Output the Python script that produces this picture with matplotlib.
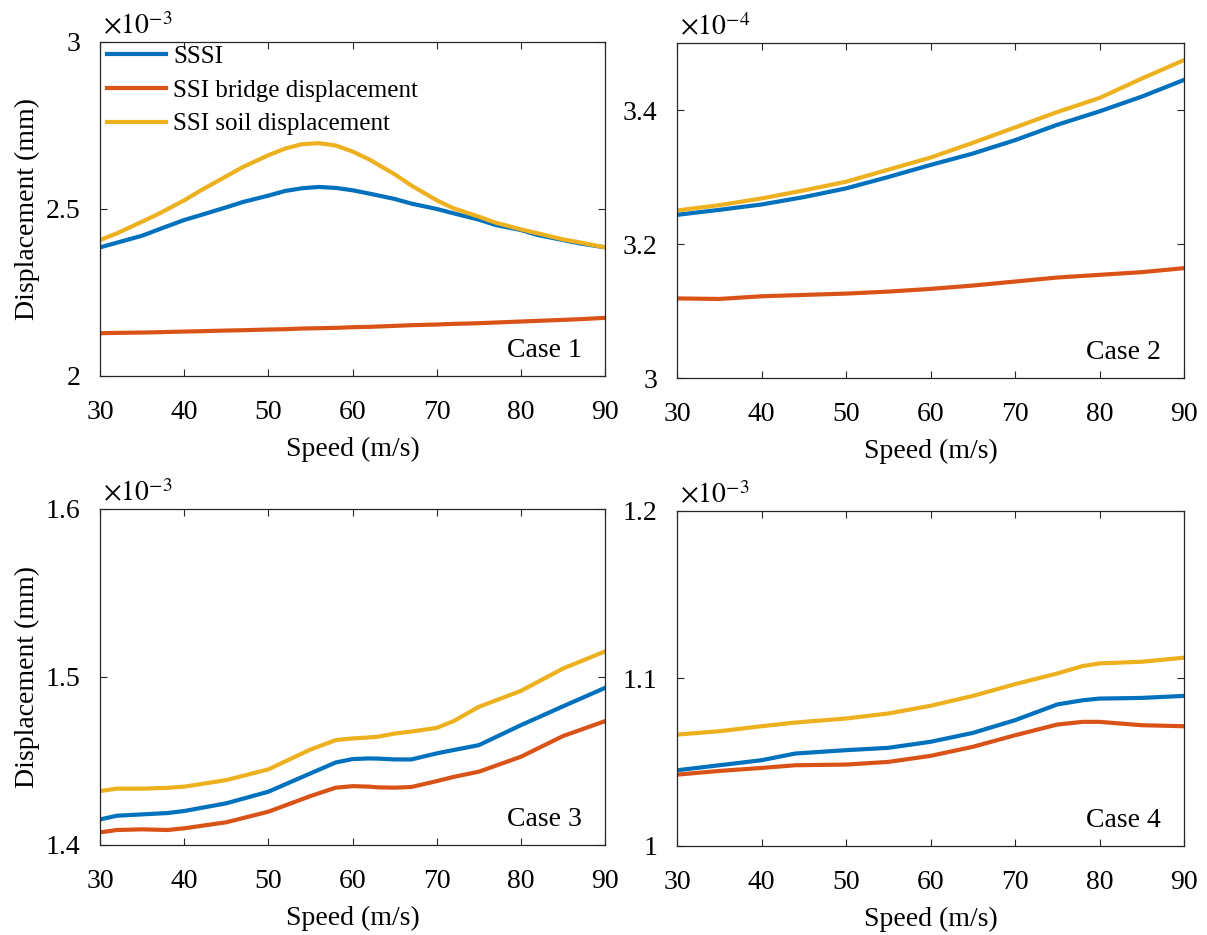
import matplotlib
matplotlib.use("Agg")
import matplotlib.pyplot as plt
from matplotlib.ticker import FuncFormatter

plt.rcParams['font.family'] = ['Liberation Serif', 'DejaVu Serif']
plt.rcParams['mathtext.fontset'] = 'stix'

# values shown in units of the axis multiplier (x10^-3 or x10^-4 mm)
speed_c1 = [30, 32, 35, 37, 40, 42, 45, 47, 50, 52, 54, 56, 58, 60, 62, 65, 67, 70, 72, 75, 77, 80, 82, 85, 87, 90]
sssi_c1 = [2.385, 2.399, 2.420, 2.439, 2.467, 2.482, 2.505, 2.521, 2.540, 2.554, 2.562, 2.566, 2.563, 2.556, 2.546,
           2.530, 2.516, 2.500, 2.487, 2.468, 2.452, 2.437, 2.422, 2.407, 2.397, 2.385]
bridge_c1 = [2.128, 2.129, 2.130, 2.131, 2.133, 2.134, 2.136, 2.137, 2.139, 2.140, 2.142, 2.143, 2.144, 2.146, 2.147,
             2.150, 2.152, 2.154, 2.156, 2.158, 2.160, 2.163, 2.165, 2.168, 2.170, 2.174]
soil_c1 = [2.407, 2.427, 2.462, 2.486, 2.526, 2.556, 2.598, 2.626, 2.661, 2.681, 2.694, 2.697, 2.690, 2.672, 2.648,
           2.604, 2.570, 2.526, 2.502, 2.477, 2.459, 2.439, 2.427, 2.409, 2.400, 2.385]

speed_c2 = [30, 35, 40, 45, 50, 55, 60, 65, 70, 75, 80, 85, 90]
sssi_c2 = [3.2435, 3.251, 3.259, 3.270, 3.283, 3.300, 3.318, 3.335, 3.355, 3.378, 3.398, 3.420, 3.445]
bridge_c2 = [3.1188, 3.118, 3.122, 3.124, 3.126, 3.129, 3.133, 3.138, 3.144, 3.150, 3.154, 3.158, 3.164]
soil_c2 = [3.250, 3.258, 3.268, 3.280, 3.293, 3.311, 3.329, 3.351, 3.374, 3.397, 3.418, 3.447, 3.4745]

speed_c3 = [30, 32, 35, 38, 40, 45, 50, 55, 58, 60, 62, 63, 65, 67, 70, 72, 75, 80, 85, 90]
sssi_c3 = [1.4152, 1.4174, 1.4182, 1.4190, 1.4202, 1.4248, 1.4317, 1.4426, 1.4491, 1.4511, 1.4515, 1.4514, 1.4509, 1.4509,
           1.4545, 1.4565, 1.4594, 1.4713, 1.4825, 1.4935]
bridge_c3 = [1.4075, 1.4089, 1.4093, 1.4089, 1.4099, 1.4135, 1.4198, 1.4291, 1.4341, 1.4350, 1.4347, 1.4343, 1.4341, 1.4345,
             1.4380, 1.4405, 1.4436, 1.4525, 1.4648, 1.4737]
soil_c3 = [1.4321, 1.4335, 1.4335, 1.4340, 1.4347, 1.4386, 1.4450, 1.4568, 1.4624, 1.4634, 1.4640, 1.4644, 1.4663, 1.4675,
           1.4697, 1.4737, 1.4822, 1.4917, 1.5050, 1.5152]

speed_c4 = [30, 35, 40, 44, 50, 55, 60, 65, 70, 75, 78, 80, 85, 90]
sssi_c4 = [1.0452, 1.0482, 1.0512, 1.0552, 1.0572, 1.0586, 1.0622, 1.0675, 1.0751, 1.0845, 1.0870, 1.0880, 1.0884, 1.0896]
bridge_c4 = [1.0426, 1.0448, 1.0466, 1.0482, 1.0486, 1.0502, 1.0538, 1.0592, 1.0661, 1.0725, 1.0741, 1.0741, 1.0721, 1.0715]
soil_c4 = [1.0665, 1.0685, 1.0715, 1.0737, 1.0761, 1.0791, 1.0837, 1.0896, 1.0966, 1.1030, 1.1074, 1.1090, 1.1100, 1.1124]

series_names = ['SSSI', 'SSI bridge displacement', 'SSI soil displacement']
colors = ['#0072BD', '#D95319', '#EDB120']
case_names = ['Case 1', 'Case 2', 'Case 3', 'Case 4']
multipliers = [r'$\times10^{-3}$', r'$\times10^{-4}$', r'$\times10^{-3}$', r'$\times10^{-3}$']
ylims = [(2, 3), (3, 3.5), (1.4, 1.6), (1, 1.2)]
yticks = [[2, 2.5, 3], [3, 3.2, 3.4], [1.4, 1.5, 1.6], [1, 1.1, 1.2]]

panels = [
    (speed_c1, sssi_c1, bridge_c1, soil_c1),
    (speed_c2, sssi_c2, bridge_c2, soil_c2),
    (speed_c3, sssi_c3, bridge_c3, soil_c3),
    (speed_c4, sssi_c4, bridge_c4, soil_c4),
]

positions = [
    [0.0829, 0.5979, 0.4184, 0.3572],
    [0.5609, 0.5957, 0.4201, 0.3583],
    [0.0829, 0.0963, 0.4184, 0.3594],
    [0.5609, 0.0952, 0.4201, 0.3583],
]

fig = plt.figure(figsize=(12.07, 9.35), dpi=100)
axc = '#262626'

for i, (spd, a, b, c) in enumerate(panels):
    ax = fig.add_axes(positions[i])
    for vals, col, name in zip((a, b, c), colors, series_names):
        ax.plot(spd, vals, color=col, lw=3.0, label=name, solid_joinstyle='round')
    ax.set_xlim(30, 90)
    ax.set_ylim(*ylims[i])
    ax.set_xticks(range(30, 91, 10))
    ax.set_yticks(yticks[i])
    ax.yaxis.set_major_formatter(FuncFormatter(lambda v, p: '%g' % v))
    ax.tick_params(direction='in', top=True, right=True, length=5, width=0.8,
                   labelsize=20, colors=axc, labelcolor='black')
    ax.tick_params(axis='x', pad=17)
    ax.tick_params(axis='y', pad=14)
    for s in ax.spines.values():
        s.set_color(axc)
        s.set_linewidth(0.9)
    ax.set_xlabel('Speed (m/s)', fontsize=20, labelpad=9)
    if i % 2 == 0:
        ax.set_ylabel('Displacement (mm)', fontsize=20, labelpad=4)
    ax.text(0.005, 1.005, multipliers[i], transform=ax.transAxes, fontsize=20,
            ha='left', va='bottom')
    ax.text(0.955, 0.075, case_names[i], transform=ax.transAxes, fontsize=20,
            ha='right', va='center')
    if i == 0:
        ax.legend(loc='upper left', bbox_to_anchor=(-0.016, 1.035), frameon=False,
                  fontsize=18, handlelength=2.35, handletextpad=0.3,
                  labelspacing=0.45, borderaxespad=0.2)

fig.savefig('out.png', dpi=100)
